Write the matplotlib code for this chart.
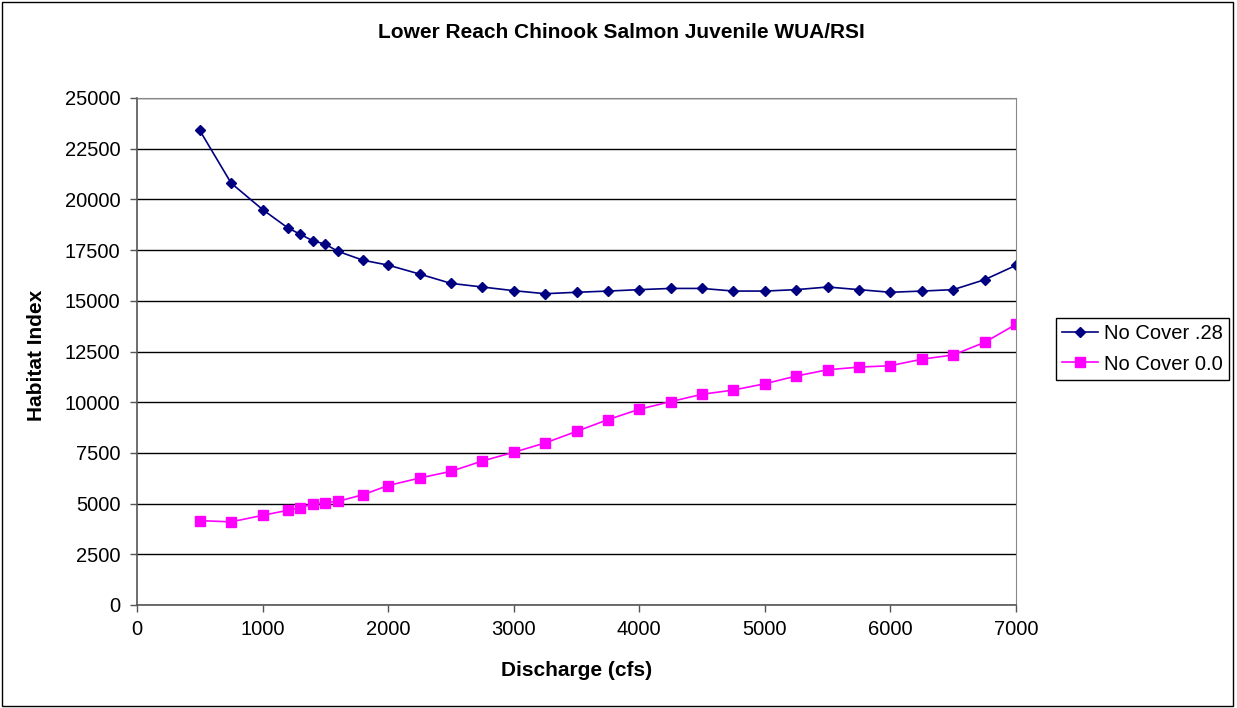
import matplotlib.pyplot as plt
from matplotlib.patches import Rectangle

plt.rcParams['font.family'] = ['Liberation Sans', 'DejaVu Sans']

# discharge steps (cfs)
discharge = [500, 750, 1000, 1200, 1300, 1400, 1500, 1600, 1800, 2000,
             2250, 2500, 2750, 3000, 3250, 3500, 3750, 4000, 4250, 4500,
             4750, 5000, 5250, 5500, 5750, 6000, 6250, 6500, 6750, 7000]

# habitat index for each cover criterion
cover_028 = [23400, 20800, 19500, 18600, 18280, 17960, 17790, 17440, 17000, 16760,
             16320, 15860, 15680, 15500, 15350, 15420, 15480, 15550, 15610, 15610,
             15480, 15480, 15550, 15680, 15550, 15420, 15480, 15550, 16040, 16750]
cover_00 = [4160, 4100, 4420, 4670, 4800, 4980, 5050, 5110, 5440, 5890,
            6260, 6590, 7100, 7530, 7990, 8560, 9140, 9650, 10030, 10390,
            10600, 10910, 11290, 11600, 11730, 11800, 12120, 12330, 12950, 13840]

fig = plt.figure(figsize=(12.37, 7.08), dpi=100)
ax = fig.add_axes([137 / 1237, 1 - 605 / 708, 879 / 1237, 507 / 708])

ax.plot(discharge, cover_028, color='#000080', marker='D', markersize=5.5,
        linewidth=1.2, label='No Cover .28')
ax.plot(discharge, cover_00, color='#FF00FF', marker='s', markersize=6.5,
        linewidth=1.2, label='No Cover 0.0')

ax.set_xlim(0, 7000)
ax.set_ylim(0, 25000)
ax.set_xticks(range(0, 7001, 1000))
ax.set_yticks(range(0, 25001, 2500))
ax.yaxis.grid(True, color='black', linewidth=1)
ax.set_axisbelow(True)

ax.tick_params(labelsize=14.5, direction='out', length=5, width=1, color='#555555')
ax.tick_params(axis='y', pad=7)
ax.tick_params(axis='x', pad=6)
for side in ['top', 'right']:
    ax.spines[side].set_color('#888888')
for side in ['left', 'bottom']:
    ax.spines[side].set_color('#555555')
    ax.spines[side].set_linewidth(1.2)

fig.text(577 / 1237, 1 - 671 / 708, 'Discharge (cfs)', fontsize=15,
         fontweight='bold', ha='center', va='center')
fig.text(37 / 1237, 1 - 355 / 708, 'Habitat Index', fontsize=15,
         fontweight='bold', ha='center', va='center', rotation=90)
fig.text(621 / 1237, 1 - 33 / 708, 'Lower Reach Chinook Salmon Juvenile WUA/RSI',
         fontsize=15, fontweight='bold', ha='center', va='center')

leg = ax.legend(loc='center left', bbox_to_anchor=(1056 / 1237, 1 - 349 / 708),
                bbox_transform=fig.transFigure, fontsize=14.5, fancybox=False,
                edgecolor='black', framealpha=1, borderpad=0.3, borderaxespad=0,
                handlelength=1.8, handletextpad=0.3, labelspacing=0.55)
leg.get_frame().set_linewidth(1)

# outer chart border
fig.patches.append(Rectangle((0.002, 0.003), 0.995, 0.994, transform=fig.transFigure,
                             fill=False, edgecolor='black', linewidth=1))

fig.savefig('out.png', dpi=100)
